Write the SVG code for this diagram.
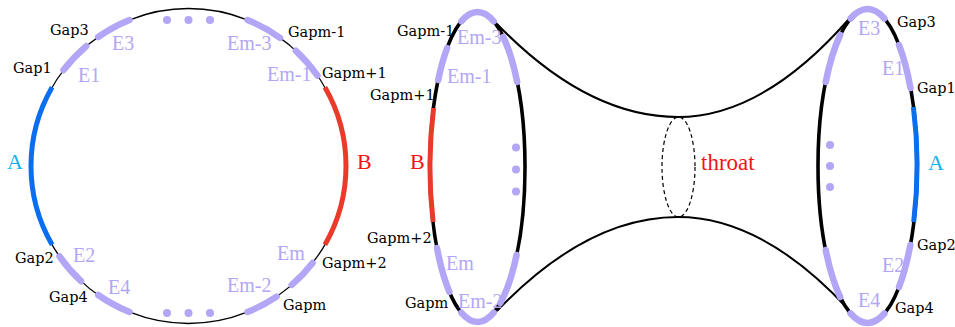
<svg xmlns="http://www.w3.org/2000/svg" width="955" height="327" viewBox="0 0 955 327">
<style>
text{font-family:"Liberation Serif","Times New Roman",serif}
.gap{font-family:"DejaVu Serif","Liberation Serif",serif;font-size:14.5px;fill:#000}
.el{font-size:20px;fill:#b3a6f6}
.ca{font-size:22px;fill:#12b2f0}
.cb{font-size:22px;fill:#f01515}
.thin{fill:none;stroke:#000;stroke-width:1.3}
.thick{fill:none;stroke:#000;stroke-width:3.6}
.pu{fill:none;stroke:#b3a6f6;stroke-width:6.5;stroke-linecap:round}
.bl{fill:none;stroke:#0a6ef0;stroke-width:5}
.rd{fill:none;stroke:#e93a2a;stroke-width:5}
.dot{fill:#b3a6f6}
.neck{fill:none;stroke:#000;stroke-width:2}
</style>

<g id="circle-left">
  <circle cx="188.5" cy="166" r="157.5" class="thin"/>
  <path class="bl" d="M52.1 87.25 A157.5 157.5 0 0 0 52.1 244.75"/>
  <path class="rd" d="M324.9 87.25 A157.5 157.5 0 0 1 324.9 244.75"/>
  <path class="pu" d="M63.5 70.1 A157.5 157.5 0 0 1 86.2 46.2"/>
  <path class="pu" d="M98.2 37 A157.5 157.5 0 0 1 129.5 20"/>
  <path class="pu" d="M247.5 20 A157.5 157.5 0 0 1 280 37.8"/>
  <path class="pu" d="M295.9 50.8 A157.5 157.5 0 0 1 317.5 75.7"/>
  <path class="pu" d="M59.5 256.3 A157.5 157.5 0 0 0 81.1 281.2"/>
  <path class="pu" d="M98.2 295 A157.5 157.5 0 0 0 129.5 312"/>
  <path class="pu" d="M312.6 263 A157.5 157.5 0 0 1 291.8 284.9"/>
  <path class="pu" d="M276.6 296.6 A157.5 157.5 0 0 1 247.5 312"/>
  <circle class="dot" cx="167" cy="20" r="4"/>
  <circle class="dot" cx="188.5" cy="20" r="4"/>
  <circle class="dot" cx="210" cy="20" r="4"/>
  <circle class="dot" cx="167" cy="313" r="4"/>
  <circle class="dot" cx="188.5" cy="313" r="4"/>
  <circle class="dot" cx="210" cy="313" r="4"/>
  <text class="ca" x="7" y="169">A</text>
  <text class="cb" x="357" y="169">B</text>
  <text class="gap" x="13" y="73">Gap1</text>
  <text class="gap" x="50" y="35">Gap3</text>
  <text class="gap" x="288" y="37">Gapm-1</text>
  <text class="gap" x="322" y="78">Gapm+1</text>
  <text class="gap" x="15" y="263">Gap2</text>
  <text class="gap" x="49" y="302">Gap4</text>
  <text class="gap" x="322" y="268">Gapm+2</text>
  <text class="gap" x="283" y="310">Gapm</text>
  <text class="el" x="78" y="82">E1</text>
  <text class="el" x="112" y="50">E3</text>
  <text class="el" x="227" y="50">Em-3</text>
  <text class="el" x="267" y="81">Em-1</text>
  <text class="el" x="73" y="262">E2</text>
  <text class="el" x="108" y="294">E4</text>
  <text class="el" x="277" y="260">Em</text>
  <text class="el" x="227" y="292">Em-2</text>
</g>

<g id="connectors">
  <path class="neck" d="M497 24 Q587 117 678 117 Q763 117 849 19"/>
  <path class="neck" d="M497 311 Q587 217 678 217 Q763 217 849 310"/>
</g>

<g id="throat">
  <ellipse cx="678.5" cy="167" rx="16.5" ry="50" fill="none" stroke="#000" stroke-width="1.2" stroke-dasharray="4 3"/>
  <text class="cb" x="701" y="170" style="font-size:23px">throat</text>
</g>

<g id="ellipse-left">
  <ellipse cx="477.5" cy="167" rx="47.5" ry="155" class="thick"/>
  <path class="pu" d="M461.3 21.3 A47.5 155 0 0 1 493.7 21.3"/>
  <path class="pu" d="M447.1 48 A47.5 155 0 0 0 438.2 80"/>
  <path class="rd" d="M433.6 108 A47.5 155 0 0 0 433.1 222"/>
  <path class="pu" d="M437 248 A47.5 155 0 0 0 449.4 292"/>
  <path class="pu" d="M461.3 312.7 A47.5 155 0 0 0 493.7 312.7"/>
  <path class="pu" d="M500.3 303 A47.5 155 0 0 0 516.6 255"/>
  <path class="pu" d="M503.3 37 A47.5 155 0 0 1 517.2 82"/>
  <circle class="dot" cx="516" cy="147.5" r="4"/>
  <circle class="dot" cx="516" cy="169.5" r="4"/>
  <circle class="dot" cx="516" cy="191.5" r="4"/>
  <text class="cb" x="410" y="169">B</text>
  <text class="gap" x="397" y="36">Gapm-1</text>
  <text class="gap" x="370" y="100">Gapm+1</text>
  <text class="gap" x="367" y="243">Gapm+2</text>
  <text class="gap" x="405" y="308">Gapm</text>
  <text class="el" x="457" y="44">Em-3</text>
  <text class="el" x="447" y="83">Em-1</text>
  <text class="el" x="446" y="270">Em</text>
  <text class="el" x="458" y="308">Em-2</text>
</g>

<g id="ellipse-right">
  <ellipse cx="867.5" cy="166" rx="49.5" ry="157" class="thick"/>
  <path class="pu" d="M850.6 18.5 A49.5 157 0 0 1 884.4 18.5"/>
  <path class="pu" d="M899 45 A49.5 157 0 0 1 910.5 88"/>
  <path class="bl" d="M913.4 107 A49.5 157 0 0 1 913.7 222"/>
  <path class="pu" d="M910.3 245 A49.5 157 0 0 1 899 287"/>
  <path class="pu" d="M884.4 313.5 A49.5 157 0 0 1 850.6 313.5"/>
  <path class="pu" d="M840.2 297 A49.5 157 0 0 1 825.7 250"/>
  <path class="pu" d="M825.7 82 A49.5 157 0 0 1 840.2 35"/>
  <circle class="dot" cx="830" cy="145" r="4"/>
  <circle class="dot" cx="830" cy="166" r="4"/>
  <circle class="dot" cx="830" cy="187" r="4"/>
  <text class="ca" x="928" y="170">A</text>
  <text class="gap" x="897" y="27">Gap3</text>
  <text class="gap" x="917" y="93">Gap1</text>
  <text class="gap" x="917" y="250">Gap2</text>
  <text class="gap" x="895" y="313">Gap4</text>
  <text class="el" x="858" y="35">E3</text>
  <text class="el" x="882" y="75">E1</text>
  <text class="el" x="882" y="272">E2</text>
  <text class="el" x="858" y="307">E4</text>
</g>
</svg>
